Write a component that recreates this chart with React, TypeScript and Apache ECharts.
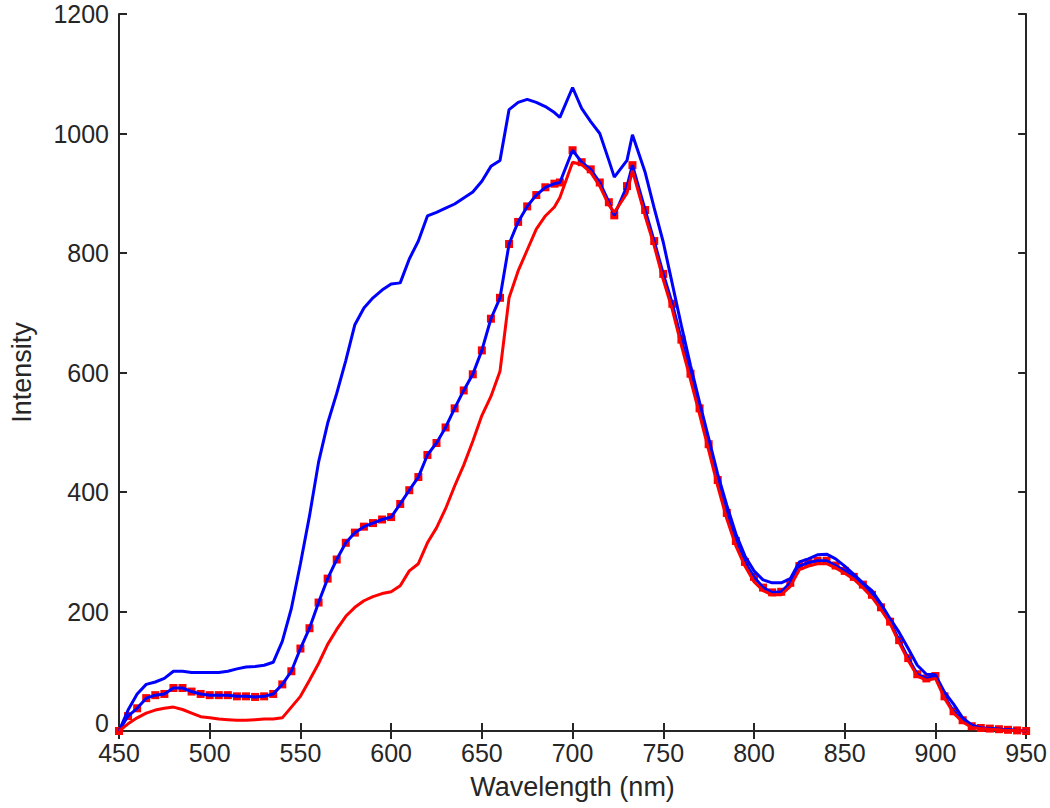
import React, { useEffect, useRef } from "react";
import * as echarts from "echarts";

const wavelength = [
  450, 455, 460, 465, 470, 475, 480, 485, 490, 495, 500, 505, 510, 515, 520, 525, 530, 535, 540, 545,
  550, 555, 560, 565, 570, 575, 580, 585, 590, 595, 600, 605, 610, 615, 620, 625, 630, 635, 640, 645,
  650, 655, 660, 665, 670, 675, 680, 685, 690, 693, 700, 705, 710, 715, 720, 723, 730, 733, 740, 745,
  750, 755, 760, 765, 770, 775, 780, 785, 790, 795, 800, 805, 810, 815, 820, 825, 830, 835, 840, 845,
  850, 855, 860, 865, 870, 875, 880, 885, 890, 895, 900, 905, 910, 915, 920, 925, 930, 935, 940, 945, 950,
];

const blueUpper = [
  0, 35, 62, 78, 82, 88, 100, 100, 98, 98, 98, 98, 100, 104, 107, 108, 110, 115, 150, 205,
  280, 360, 450, 515, 565, 620, 680, 708, 725, 738, 748, 750, 790, 820, 862, 868, 875, 882, 892, 902,
  920, 945, 955, 1040, 1052, 1057, 1052, 1045, 1035, 1027, 1077, 1042, 1020, 1000, 955, 927, 955, 998, 935, 875,
  818, 748, 678, 612, 550, 490, 430, 378, 330, 293, 268, 253, 248, 248, 255, 283, 288, 295, 296, 288,
  276, 262, 248, 235, 213, 188, 165, 138, 110, 95, 94, 65, 45, 22, 10, 5, 4, 3, 2, 1, 0,
];

const middle = [
  0, 25, 38, 55, 60, 62, 72, 72, 66, 62, 60, 60, 60, 58, 58, 57, 58, 62, 78, 100,
  138, 172, 215, 255, 287, 315, 332, 342, 348, 354, 358, 380, 403, 425, 462, 482, 508, 540, 570, 597,
  637, 690, 725, 815, 852, 878, 897, 910, 916, 918, 972, 952, 940, 918, 885, 863, 912, 947, 872, 820,
  765, 715, 655, 598, 540, 480, 420, 365, 318, 283, 258, 240, 232, 233, 248, 276, 282, 285, 285, 277,
  268, 258, 245, 228, 207, 183, 152, 122, 95, 88, 92, 58, 33, 18, 8, 5, 4, 3, 2, 1, 0,
];

const redLower = [
  0, 12, 22, 30, 35, 38, 40, 36, 30, 24, 22, 20, 19, 18, 18, 19, 20, 20, 22, 40,
  58, 85, 113, 145, 170, 192, 207, 218, 225, 230, 233, 243, 268, 280, 315, 340, 372, 410, 445, 485,
  528, 560, 602, 725, 770, 805, 840, 862, 877, 893, 952, 948, 935, 912, 880, 868, 900, 938, 862, 812,
  755, 705, 645, 588, 530, 470, 410, 355, 310, 276, 250, 235, 228, 228, 242, 270, 276, 280, 280, 273,
  264, 254, 240, 224, 203, 180, 148, 118, 92, 85, 88, 55, 30, 15, 6, 4, 3, 2, 1, 1, 0,
];

const xTicks = { min: 450, max: 950, interval: 50 };
const yTicks = { min: 0, max: 1200, interval: 200 };

const FONT = "'Liberation Sans', Arial, sans-serif";
const AXIS_COLOR = "#262626";

function pairs(xs: number[], ys: number[]) {
  return xs.map((x, i) => [x, ys[i]]);
}

export default function App() {
  const ref = useRef<HTMLDivElement>(null);

  useEffect(() => {
    if (!ref.current) return;
    const chart = echarts.init(ref.current, undefined, { renderer: "svg" });
    const axisLine = { show: true, lineStyle: { color: AXIS_COLOR, width: 2 } };
    const axisTick = { show: true, inside: true, length: 8, lineStyle: { color: AXIS_COLOR, width: 2 } };
    const axisLabelBase = { fontSize: 25, lineHeight: 22, color: AXIS_COLOR, fontFamily: FONT, margin: 10 };
    chart.setOption({
      animation: false,
      backgroundColor: "#ffffff",
      grid: { left: 114, right: 21, top: 14, bottom: 77, containLabel: false },
      xAxis: [
        {
          type: "value",
          position: "bottom",
          ...xTicks,
          axisLine,
          axisTick,
          axisLabel: { ...axisLabelBase, margin: 11, formatter: (v: number) => String(v) },
          splitLine: { show: false },
          name: "Wavelength (nm)",
          nameLocation: "middle",
          nameGap: 42,
          nameTextStyle: { fontSize: 27, color: AXIS_COLOR, fontFamily: FONT },
        },
        {
          type: "value",
          position: "top",
          ...xTicks,
          axisLine,
          axisTick,
          axisLabel: { show: false },
          splitLine: { show: false },
        },
      ],
      yAxis: [
        {
          type: "value",
          position: "left",
          ...yTicks,
          axisLine,
          axisTick,
          axisLabel: {
            ...axisLabelBase,
            formatter: (v: number) => (v === 0 ? "{z|0}" : String(v)),
            rich: {
              z: { fontSize: 25, lineHeight: 22, color: AXIS_COLOR, fontFamily: FONT, padding: [0, 0, 16, 0] },
            },
          },
          splitLine: { show: false },
          name: "Intensity",
          nameLocation: "middle",
          nameGap: 84,
          nameTextStyle: { fontSize: 27, color: AXIS_COLOR, fontFamily: FONT },
        },
        {
          type: "value",
          position: "right",
          ...yTicks,
          axisLine,
          axisTick,
          axisLabel: { show: false },
          splitLine: { show: false },
        },
      ],
      series: [
        {
          type: "line",
          name: "upper",
          data: pairs(wavelength, blueUpper),
          showSymbol: false,
          symbol: "none",
          lineStyle: { color: "#0000ff", width: 3 },
          xAxisIndex: 0,
          yAxisIndex: 0,
        },
        {
          type: "line",
          name: "middle",
          data: pairs(wavelength, middle),
          showSymbol: false,
          symbol: "none",
          lineStyle: { color: "#0000ff", width: 3 },
          xAxisIndex: 0,
          yAxisIndex: 0,
        },
        {
          type: "line",
          name: "lower",
          data: pairs(wavelength, redLower),
          showSymbol: false,
          symbol: "none",
          lineStyle: { color: "#ff0000", width: 3 },
          xAxisIndex: 0,
          yAxisIndex: 0,
        },
        {
          type: "scatter",
          name: "middle markers",
          data: pairs(wavelength, middle),
          symbol: "rect",
          symbolSize: 8,
          itemStyle: { color: "#ff0000", opacity: 1, borderWidth: 0 },
          xAxisIndex: 0,
          yAxisIndex: 0,
        },
      ],
    });
    return () => chart.dispose();
  }, []);

  return (
    <div
      ref={ref}
      style={{ position: "absolute", left: 0, top: 0, width: 1050, height: 808, background: "#fff" }}
    />
  );
}
